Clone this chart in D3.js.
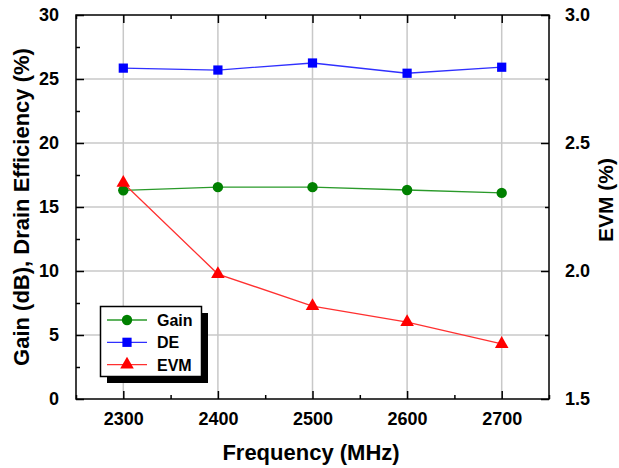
<!DOCTYPE html>
<html>
<head>
<meta charset="utf-8">
<script src="https://cdn.jsdelivr.net/npm/d3@7"></script>
<style>
  html, body { margin: 0; padding: 0; background: #fff; }
  svg { display: block; font-family: "Liberation Sans", Arial, sans-serif; font-weight: bold; }
</style>
</head>
<body>
<svg id="chart" width="619" height="468"></svg>
<script>
// ---- data ----
const frequencies = [2300, 2400, 2500, 2600, 2700];
const gainValues = [16.3, 16.55, 16.55, 16.33, 16.1];
const deValues = [25.85, 25.7, 26.25, 25.45, 25.92];
const evmValues = [2.344, 1.988, 1.863, 1.80, 1.715];
const xTicks = [2300, 2400, 2500, 2600, 2700];
const leftTicks = [0, 5, 10, 15, 20, 25, 30];
const rightTicks = [1.5, 2.0, 2.5, 3.0];
const seriesNames = ["Gain", "DE", "EVM"];

(function () {
// ---- layout ----
const L = 76, R = 549, T = 15, B = 399;
const svg = d3.select("#chart");

const x = d3.scaleLinear().domain([2250, 2750]).range([L, R]);
const yL = d3.scaleLinear().domain([0, 30]).range([B, T]);
const yR = d3.scaleLinear().domain([1.5, 3.0]).range([B, T]);

// grid
const grid = svg.append("g").attr("stroke", "#c8c8c8").attr("stroke-width", 1.5);
xTicks.forEach(v => grid.append("line").attr("x1", x(v)).attr("x2", x(v)).attr("y1", T).attr("y2", B));
leftTicks.slice(1, -1).forEach(v => grid.append("line").attr("x1", L).attr("x2", R).attr("y1", yL(v)).attr("y2", yL(v)));

// axes with inward ticks
const major = 8, minor = 4;
const xMinor = d3.range(2250, 2751, 50).filter(v => !xTicks.includes(v));
const gB = svg.append("g").attr("transform", `translate(0,${B})`)
  .call(d3.axisBottom(x).tickValues(xTicks).tickSize(-major).tickPadding(13).tickFormat(d3.format("d")));
const gT = svg.append("g").attr("transform", `translate(0,${T})`)
  .call(d3.axisTop(x).tickValues(xTicks).tickSize(-major).tickFormat(""));
const gBm = svg.append("g").attr("transform", `translate(0,${B})`)
  .call(d3.axisBottom(x).tickValues(xMinor).tickSize(-minor).tickFormat(""));
const gTm = svg.append("g").attr("transform", `translate(0,${T})`)
  .call(d3.axisTop(x).tickValues(xMinor).tickSize(-minor).tickFormat(""));

const gL = svg.append("g").attr("transform", `translate(${L},0)`)
  .call(d3.axisLeft(yL).tickValues(leftTicks).tickSize(-major).tickPadding(17).tickFormat(d3.format("d")));
const gLm = svg.append("g").attr("transform", `translate(${L},0)`)
  .call(d3.axisLeft(yL).tickValues(d3.range(2.5, 30, 5)).tickSize(-minor).tickFormat(""));
const gR = svg.append("g").attr("transform", `translate(${R},0)`)
  .call(d3.axisRight(yR).tickValues(rightTicks).tickSize(-major).tickPadding(16).tickFormat(d3.format(".1f")));
const gRm = svg.append("g").attr("transform", `translate(${R},0)`)
  .call(d3.axisRight(yR).tickValues([1.75, 2.25, 2.75]).tickSize(-minor).tickFormat(""));

[gB, gT, gBm, gTm, gL, gLm, gR, gRm].forEach(g => {
  g.select(".domain").remove();
  g.selectAll(".tick line").attr("stroke", "#000").attr("stroke-width", 1.5);
  g.selectAll(".tick text").attr("font-size", 18).attr("font-weight", "bold").attr("fill", "#000")
    .attr("font-family", "Liberation Sans, Arial, sans-serif");
});

// frame
svg.append("rect").attr("x", L).attr("y", T).attr("width", R - L).attr("height", B - T)
  .attr("fill", "none").attr("stroke", "#000").attr("stroke-width", 1.5);

// series
const series = [
  { name: seriesNames[0], vals: gainValues, y: yL, color: "#008000", line: "#2a9a2a", sym: d3.symbolCircle, size: 85 },
  { name: seriesNames[1], vals: deValues, y: yL, color: "#0000ff", line: "#3030ff", sym: d3.symbolSquare, size: 85 },
  { name: seriesNames[2], vals: evmValues, y: yR, color: "#ff0000", line: "#ff3030", sym: d3.symbolTriangle, size: 80 }
];
series.forEach(s => {
  const pts = frequencies.map((f, i) => [x(f), s.y(s.vals[i])]);
  svg.append("path").attr("d", d3.line()(pts)).attr("fill", "none")
    .attr("stroke", s.line).attr("stroke-width", 1.3);
  svg.append("g").selectAll("path").data(pts).join("path")
    .attr("transform", d => `translate(${d[0]},${d[1]})`)
    .attr("d", d3.symbol().type(s.sym).size(s.size))
    .attr("fill", s.color);
});

// legend
const lg = svg.append("g");
lg.append("rect").attr("x", 107).attr("y", 313).attr("width", 101).attr("height", 70).attr("fill", "#000");
lg.append("rect").attr("x", 100.5).attr("y", 306.5).attr("width", 101).attr("height", 70)
  .attr("fill", "#fff").attr("stroke", "#000").attr("stroke-width", 1.5);
series.forEach((s, i) => {
  const yy = 320 + i * 22.3;
  lg.append("line").attr("x1", 107).attr("x2", 147).attr("y1", yy).attr("y2", yy)
    .attr("stroke", s.line).attr("stroke-width", 1.3);
  lg.append("path").attr("transform", `translate(127,${yy})`)
    .attr("d", d3.symbol().type(s.sym).size(s.size)).attr("fill", s.color);
  lg.append("text").attr("x", 157).attr("y", yy + 6).attr("font-size", 16).text(s.name);
});

// axis titles
svg.append("text").attr("x", 311).attr("y", 460).attr("text-anchor", "middle")
  .attr("font-size", 22).text("Frequency (MHz)");
svg.append("text").attr("transform", "translate(29,207) rotate(-90)").attr("text-anchor", "middle")
  .attr("font-size", 22).text("Gain (dB), Drain Efficiency (%)");
svg.append("text").attr("transform", "translate(613,200) rotate(-90)").attr("text-anchor", "middle")
  .attr("font-size", 21).text("EVM (%)");
})();
</script>
</body>
</html>
